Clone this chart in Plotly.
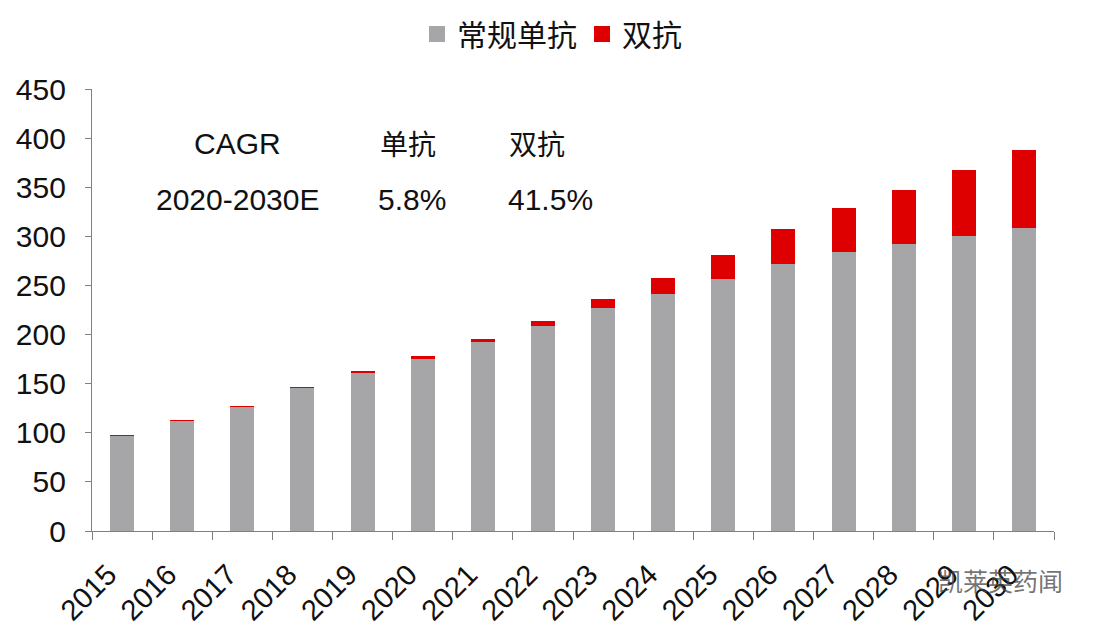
import plotly.graph_objects as go

years = ["2015", "2016", "2017", "2018", "2019", "2020", "2021", "2022",
         "2023", "2024", "2025", "2026", "2027", "2028", "2029", "2030"]
mono = [97, 112, 126.5, 146, 161, 175.5, 192.5, 209, 227, 241, 257, 272, 284, 292, 300, 308]
bispec = [0.5, 0.5, 0.5, 0.5, 1, 2.5, 3, 5, 9, 17, 24.5, 35, 45, 55, 68, 80]
yticks = [0, 50, 100, 150, 200, 250, 300, 350, 400, 450]
series_names = ["常规单抗", "双抗"]

GRAY = "#A6A6A8"
RED = "#DE0000"
TXT = "#111111"
LAT = "Liberation Sans, Arial, sans-serif"
CJK = "Noto Sans CJK SC, sans-serif"

# page body has an 8px margin; plot area target: x 92..1054, y 89..531
L, T, PW, PH = 84, 81, 962, 442
W, H = 1100, 630

fig = go.Figure()
fig.add_trace(go.Bar(x=years, y=mono, name=series_names[0], showlegend=False,
                     marker=dict(color=GRAY, line=dict(width=0))))
fig.add_trace(go.Bar(x=years, y=bispec, name=series_names[1], showlegend=False,
                     marker=dict(color=RED, line=dict(width=0))))
# legend entries with larger square swatches
for nm, col in zip(series_names, [GRAY, RED]):
    fig.add_trace(go.Scatter(x=[None], y=[None], mode="markers", name=nm,
                             marker=dict(symbol="square", size=18, color=col), hoverinfo="skip"))

fig.update_layout(
    barmode="stack",
    bargap=0.6,
    width=W, height=H,
    margin=dict(l=L, r=W - L - PW, t=T, b=H - T - PH, autoexpand=False),
    paper_bgcolor="white", plot_bgcolor="white",
    font=dict(family=LAT, size=29, color=TXT),
    legend=dict(orientation="h", x=(552 - 8) / W, xref="container", xanchor="center",
                y=1.0, yref="container", yanchor="top",
                font=dict(family=CJK, size=30, color=TXT), itemsizing="trace",
                itemwidth=30, traceorder="normal", bgcolor="rgba(0,0,0,0)"),
    showlegend=True,
)
fig.update_yaxes(range=[0, 450], tickvals=yticks, showgrid=False, zeroline=False,
                 showline=True, linecolor="#808080", linewidth=1.2,
                 ticks="outside", ticklen=6, tickcolor="#808080",
                 ticklabelstandoff=13,
                 tickfont=dict(family=LAT, size=30, color=TXT))
fig.update_xaxes(showgrid=False, showline=True, linecolor="#808080", linewidth=1.2,
                 ticks="outside", ticklen=8, tickcolor="#808080", tickson="boundaries",
                 tickangle=-45, ticklabelstandoff=14, ticklabelshift=-14,
                 tickfont=dict(family=LAT, size=29, color=TXT))

# CAGR table text (page pixel centres converted to plot-area fractions)
ann = [
    ("CAGR", 237, 143, LAT),
    ("2020-2030E", 237, 199, LAT),
    ("单抗", 408, 143, CJK),
    ("5.8%", 412, 199, LAT),
    ("双抗", 537, 143, CJK),
    ("41.5%", 550, 199, LAT),
]
for t, px, py, f in ann:
    fig.add_annotation(text=t, x=(px - 92) / PW, y=(531 - py) / PH, xref="paper", yref="paper",
                       showarrow=False, xanchor="center", yanchor="middle",
                       font=dict(family=f, size=30 if f == LAT else 28, color=TXT))

# watermark
fig.add_annotation(text="凯莱英药闻", x=(1000 - 92) / PW, y=(531 - 580) / PH, xref="paper", yref="paper",
                   showarrow=False, xanchor="center", yanchor="middle",
                   font=dict(family=CJK, size=25, color="rgba(70,70,70,0.75)"))

fig.write_html("out.html")
